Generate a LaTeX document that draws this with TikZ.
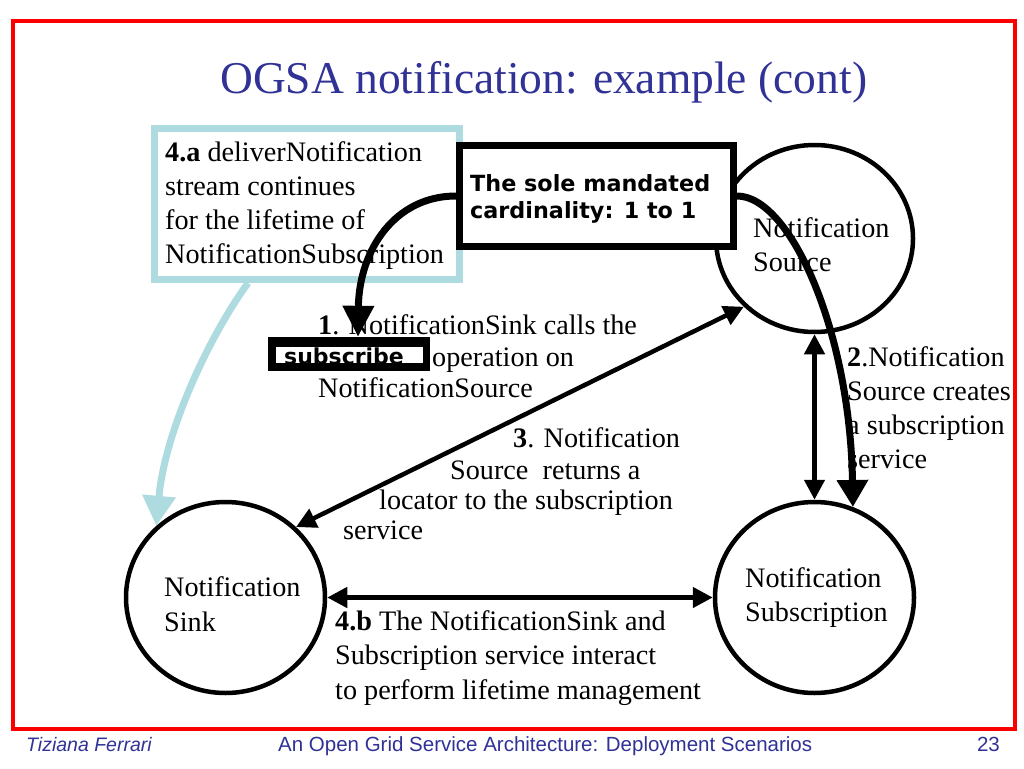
\documentclass[tikz,border=0pt]{standalone}
\usepackage{fontspec}
\setmainfont{Liberation Serif}
\newfontfamily\verd{DejaVu Sans}
\newfontfamily\arial{Liberation Sans}
\usetikzlibrary{arrows.meta,shapes.geometric}
\definecolor{titleblue}{RGB}{48,50,150}
\definecolor{lblue}{RGB}{174,219,224}
\definecolor{framered}{RGB}{250,0,0}
\begin{document}
\begin{tikzpicture}[x=1pt,y=-1pt,
  body/.style={inner sep=0pt, anchor=base west, font=\fontsize{28.2}{34}\selectfont},
  boldsans/.style={inner sep=0pt, anchor=base west, font=\verd\bfseries\fontsize{22.3}{27}\selectfont},
  foot/.style={inner sep=0pt, text=titleblue, font=\arial\fontsize{20.5}{22}\selectfont},
  circ/.style={ellipse, draw, line width=4.5pt, minimum width=199pt, minimum height=191pt, inner sep=0pt},
  dblarrow/.style={line width=4.5pt, {Triangle[length=20pt,width=20pt]}-{Triangle[length=20pt,width=20pt]}},
  bigarrow/.style={line width=7pt, -{Triangle[length=31pt,width=30pt]}},
]
\useasboundingbox (0,0) rectangle (1024,768);
\fill[white] (0,0) rectangle (1024,768);
% frame
\draw[framered, line width=4pt] (13,21) rectangle (1015,729);
% title and footer
\node[anchor=base west, inner sep=0pt, text=titleblue, font=\fontsize{45.5}{50}\selectfont] (title) at (220,93) {OGSA notification: example (cont)};
\node[foot, anchor=base west, font=\arial\itshape\fontsize{19.5}{22}\selectfont] (author) at (26,751) {Tiziana Ferrari};
\node[foot, anchor=base west] (talk) at (278,751) {An Open Grid Service Architecture: Deployment Scenarios};
\node[foot, anchor=base east] (page) at (1000,751) {23};
% circles
\node[circ, minimum width=197pt, minimum height=187pt] (src) at (814.5,238.5) {};
\node[circ] (subs) at (814.5,597.5) {};
\node[circ] (sink) at (225.5,597.5) {};
\node[body] (srcA) at (753,237) {Notification};
\node[body] (srcB) at (753,271) {Source};
\node[body] (subsA) at (745,587) {Notification};
\node[body] (subsB) at (745,621) {Subscription};
\node[body] (sinkA) at (164,596) {Notification};
\node[body] (sinkB) at (164,631) {Sink};
% light blue box
\node[draw=lblue, line width=7pt, minimum width=305pt, minimum height=151pt, inner sep=0pt] (blue) at (307,204) {};
\node[body] (a1) at (165,161) {\textbf{4.a} deliverNotification};
\node[body] (a2) at (165,195) {stream continues};
\node[body] (a3) at (165,229) {for the lifetime of};
\node[body] (a4) at (165,263) {NotificationSubscription};
\draw[lblue, line width=7pt, -{Triangle[length=30pt,width=32pt]}] ([xshift=-59pt]blue.south) .. controls (210,335) and (165,430) .. (sink.134);
% cardinality box
\node[draw, fill=white, line width=7pt, minimum width=274pt, minimum height=101pt, inner sep=0pt] (card) at (596.5,196) {};
\node[boldsans] (c1) at (470,191) {The sole mandated};
\node[boldsans] (c2) at (470,218) {cardinality: 1 to 1};
% subscribe box
\node[fill=black, minimum width=162pt, minimum height=34pt, inner sep=0pt] (sub) at (349,354) {};
\fill[white] (276,347) rectangle (423,363);
\node[boldsans, font=\verd\bfseries\fontsize{22}{27}\selectfont] (subtxt) at (284,364) {subscribe};
% labels
\node[body] (l1a) at (318,334) {\textbf{1}. NotificationSink calls the};
\node[body] (l1b) at (432,366) {operation on};
\node[body] (l1c) at (318,397) {NotificationSource};
\node[body] (l2a) at (847,366) {\textbf{2}.Notification};
\node[body] (l2b) at (847,400) {Source creates};
\node[body] (l2c) at (847,434) {a subscription};
\node[body] (l2d) at (847,468) {service};
\node[body] (l3a) at (513,447) {\textbf{3}. Notification};
\node[body] (l3b) at (450,479) {Source\ \ returns a};
\node[body] (l3c) at (379,509) {locator to the subscription};
\node[body] (l3d) at (343,539) {service};
\node[body] (l4a) at (335,630) {\textbf{4.b} The NotificationSink and};
\node[body] (l4b) at (335,664) {Subscription service interact};
\node[body] (l4c) at (335,699) {to perform lifetime management};
% arrows
\draw[bigarrow] (card.west) .. controls (395,196) and (359,250) .. ([xshift=9pt]sub.north);
\draw[bigarrow, -{Triangle[length=27pt,width=30pt]}] (card.east) .. controls (790,196) and (850,330) .. (subs.67);
\draw[dblarrow] (src.south) -- (subs.north);
\draw[dblarrow] (sink.45) -- (src.224);
\draw[dblarrow] (sink.east) -- (subs.west);
\end{tikzpicture}
\end{document}
